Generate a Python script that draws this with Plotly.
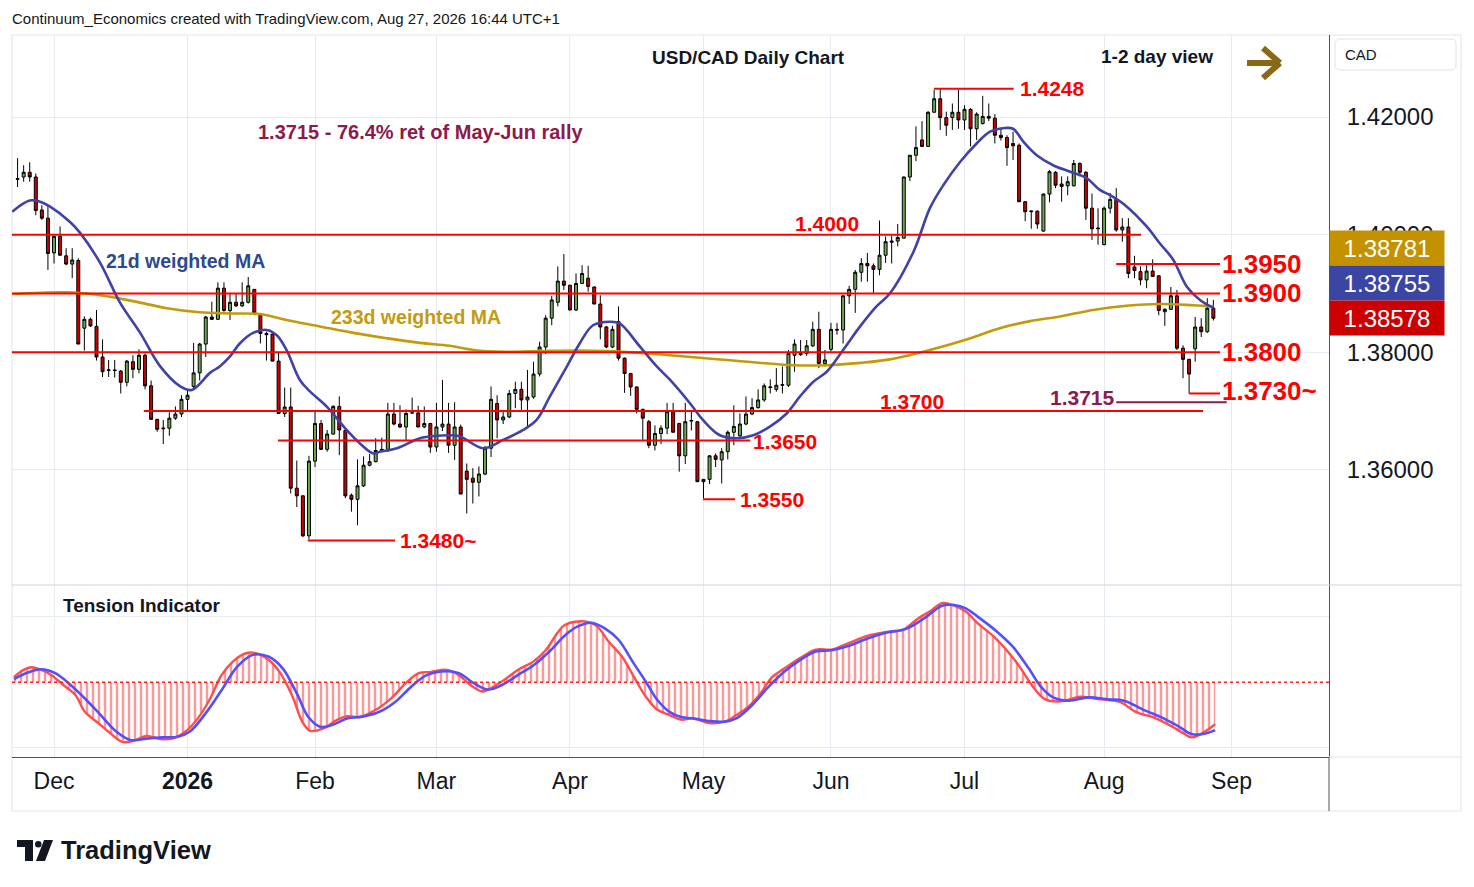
import pandas as pd
import plotly.graph_objects as go

# --- SESSION CALENDAR (FX daily, no bars on Dec 25 / Jan 1) ---
HOLIDAYS = ["2025-12-25", "2026-01-01"]
days = pd.bdate_range("2025-11-21", "2026-09-30")
days = days[~days.isin(pd.to_datetime(HOLIDAYS))]

# --- USD/CAD DAILY OHLC ---
opens = [
    1.4094, 1.4098, 1.4106, 1.4098, 1.4042, 1.4028, 1.3969, 1.3997, 1.3964, 1.3950,
    1.3956, 1.3841, 1.3856, 1.3844, 1.3792, 1.3769, 1.3770, 1.3768, 1.3749, 1.3784,
    1.3771, 1.3795, 1.3743, 1.3686, 1.3670, 1.3671, 1.3688, 1.3695, 1.3720, 1.3742,
    1.3765, 1.3814, 1.3860, 1.3856, 1.3909, 1.3871, 1.3885, 1.3879, 1.3885, 1.3907,
    1.3863, 1.3832, 1.3831, 1.3785, 1.3696, 1.3707, 1.3569, 1.3556, 1.3488, 1.3615,
    1.3679, 1.3635, 1.3661, 1.3708, 1.3667, 1.3557, 1.3550, 1.3573, 1.3608, 1.3614,
    1.3633, 1.3635, 1.3695, 1.3678, 1.3673, 1.3697, 1.3697, 1.3673, 1.3679, 1.3639,
    1.3673, 1.3678, 1.3642, 1.3673, 1.3598, 1.3586, 1.3579, 1.3593, 1.3637, 1.3713,
    1.3685, 1.3690, 1.3730, 1.3737, 1.3719, 1.3724, 1.3763, 1.3809, 1.3858, 1.3885,
    1.3921, 1.3914, 1.3872, 1.3917, 1.3926, 1.3911, 1.3882, 1.3843, 1.3809, 1.3852,
    1.3790, 1.3764, 1.3741, 1.3703, 1.3682, 1.3642, 1.3662, 1.3671, 1.3699, 1.3679,
    1.3624, 1.3683, 1.3682, 1.3580, 1.3584, 1.3624, 1.3617, 1.3631, 1.3664, 1.3658,
    1.3678, 1.3695, 1.3706, 1.3719, 1.3740, 1.3737, 1.3744, 1.3744, 1.3795, 1.3798,
    1.3798, 1.3811, 1.3839, 1.3781, 1.3805, 1.3839, 1.3838, 1.3896, 1.3907, 1.3936,
    1.3951, 1.3947, 1.3941, 1.3965, 1.3987, 1.3989, 1.3994, 1.4098, 1.4135, 1.4161,
    1.4150, 1.4208, 1.4231, 1.4199, 1.4199, 1.4208, 1.4195, 1.4213, 1.4180, 1.4189,
    1.4201, 1.4198, 1.4169, 1.4165, 1.4155, 1.4152, 1.4056, 1.4039, 1.4040, 1.4006,
    1.4069, 1.4106, 1.4086, 1.4083, 1.4083, 1.4121, 1.4106, 1.4045, 1.4010, 1.3983,
    1.4045, 1.4060, 1.4008, 1.4013, 1.3945, 1.3937, 1.3923, 1.3938, 1.3930, 1.3869,
    1.3873, 1.3896, 1.3807, 1.3788, 1.3806, 1.3843, 1.3835, 1.3875,
]
highs = [
    1.4130, 1.4118, 1.4123, 1.4104, 1.4050, 1.4050, 1.3999, 1.4014, 1.3977, 1.3977,
    1.3960, 1.3861, 1.3859, 1.3872, 1.3822, 1.3787, 1.3787, 1.3770, 1.3787, 1.3795,
    1.3805, 1.3798, 1.3752, 1.3687, 1.3685, 1.3698, 1.3708, 1.3727, 1.3736, 1.3816,
    1.3816, 1.3862, 1.3886, 1.3919, 1.3919, 1.3900, 1.3900, 1.3919, 1.3928, 1.3907,
    1.3866, 1.3835, 1.3832, 1.3799, 1.3740, 1.3740, 1.3616, 1.3557, 1.3624, 1.3699,
    1.3685, 1.3668, 1.3710, 1.3725, 1.3668, 1.3560, 1.3618, 1.3623, 1.3627, 1.3654,
    1.3655, 1.3714, 1.3714, 1.3710, 1.3703, 1.3723, 1.3709, 1.3708, 1.3680, 1.3714,
    1.3753, 1.3714, 1.3715, 1.3677, 1.3611, 1.3603, 1.3606, 1.3641, 1.3742, 1.3727,
    1.3701, 1.3736, 1.3750, 1.3750, 1.3770, 1.3784, 1.3818, 1.3863, 1.3896, 1.3946,
    1.3967, 1.3915, 1.3934, 1.3948, 1.3947, 1.3912, 1.3897, 1.3845, 1.3845, 1.3878,
    1.3791, 1.3765, 1.3742, 1.3704, 1.3685, 1.3676, 1.3676, 1.3714, 1.3714, 1.3680,
    1.3714, 1.3702, 1.3683, 1.3584, 1.3625, 1.3628, 1.3637, 1.3667, 1.3710, 1.3696,
    1.3725, 1.3722, 1.3737, 1.3747, 1.3754, 1.3773, 1.3776, 1.3804, 1.3822, 1.3821,
    1.3821, 1.3852, 1.3869, 1.3804, 1.3850, 1.3850, 1.3897, 1.3913, 1.3940, 1.3960,
    1.3969, 1.3951, 1.4024, 1.3997, 1.3998, 1.4018, 1.4099, 1.4135, 1.4184, 1.4193,
    1.4210, 1.4246, 1.4248, 1.4209, 1.4223, 1.4246, 1.4220, 1.4215, 1.4208, 1.4236,
    1.4223, 1.4205, 1.4182, 1.4169, 1.4175, 1.4155, 1.4057, 1.4041, 1.4041, 1.4070,
    1.4110, 1.4108, 1.4099, 1.4099, 1.4127, 1.4123, 1.4108, 1.4070, 1.4045, 1.4048,
    1.4071, 1.4079, 1.4028, 1.4028, 1.3964, 1.3946, 1.3948, 1.3958, 1.3931, 1.3875,
    1.3911, 1.3906, 1.3812, 1.3789, 1.3860, 1.3858, 1.3892, 1.3889,
]
lows = [
    1.4081, 1.4090, 1.4090, 1.4033, 1.4025, 1.3940, 1.3951, 1.3965, 1.3948, 1.3926,
    1.3814, 1.3803, 1.3843, 1.3786, 1.3758, 1.3758, 1.3757, 1.3730, 1.3742, 1.3756,
    1.3764, 1.3737, 1.3686, 1.3665, 1.3644, 1.3658, 1.3685, 1.3690, 1.3701, 1.3736,
    1.3752, 1.3792, 1.3855, 1.3855, 1.3869, 1.3855, 1.3877, 1.3877, 1.3883, 1.3863,
    1.3815, 1.3786, 1.3785, 1.3696, 1.3690, 1.3560, 1.3537, 1.3486, 1.3482, 1.3605,
    1.3635, 1.3631, 1.3660, 1.3625, 1.3552, 1.3529, 1.3506, 1.3571, 1.3606, 1.3613,
    1.3631, 1.3631, 1.3676, 1.3671, 1.3651, 1.3696, 1.3673, 1.3671, 1.3629, 1.3631,
    1.3666, 1.3629, 1.3617, 1.3559, 1.3526, 1.3543, 1.3555, 1.3591, 1.3622, 1.3654,
    1.3678, 1.3688, 1.3705, 1.3702, 1.3671, 1.3721, 1.3759, 1.3797, 1.3846, 1.3878,
    1.3906, 1.3871, 1.3870, 1.3916, 1.3903, 1.3882, 1.3822, 1.3807, 1.3807, 1.3786,
    1.3731, 1.3726, 1.3696, 1.3651, 1.3637, 1.3633, 1.3644, 1.3661, 1.3664, 1.3597,
    1.3610, 1.3667, 1.3580, 1.3552, 1.3576, 1.3605, 1.3577, 1.3618, 1.3642, 1.3652,
    1.3676, 1.3693, 1.3704, 1.3716, 1.3730, 1.3733, 1.3730, 1.3741, 1.3767, 1.3794,
    1.3794, 1.3809, 1.3773, 1.3776, 1.3801, 1.3830, 1.3815, 1.3882, 1.3867, 1.3920,
    1.3920, 1.3901, 1.3931, 1.3952, 1.3951, 1.3980, 1.3994, 1.4091, 1.4125, 1.4150,
    1.4150, 1.4208, 1.4178, 1.4168, 1.4178, 1.4180, 1.4178, 1.4150, 1.4161, 1.4187,
    1.4193, 1.4155, 1.4160, 1.4117, 1.4127, 1.4056, 1.4023, 1.4010, 1.4010, 1.4005,
    1.4055, 1.4079, 1.4056, 1.4067, 1.4082, 1.4099, 1.4025, 1.3991, 1.3983, 1.3982,
    1.4036, 1.4005, 1.3988, 1.3926, 1.3926, 1.3914, 1.3909, 1.3928, 1.3863, 1.3845,
    1.3872, 1.3804, 1.3756, 1.3730, 1.3784, 1.3826, 1.3833, 1.3854,
]
closes = [
    1.4095, 1.4106, 1.4098, 1.4041, 1.4028, 1.3968, 1.3997, 1.3965, 1.3950, 1.3957,
    1.3814, 1.3856, 1.3845, 1.3792, 1.3767, 1.3770, 1.3769, 1.3749, 1.3785, 1.3771,
    1.3795, 1.3743, 1.3686, 1.3669, 1.3671, 1.3688, 1.3695, 1.3720, 1.3727, 1.3765,
    1.3814, 1.3860, 1.3856, 1.3909, 1.3871, 1.3885, 1.3879, 1.3885, 1.3913, 1.3867,
    1.3832, 1.3830, 1.3785, 1.3696, 1.3707, 1.3569, 1.3556, 1.3488, 1.3615, 1.3679,
    1.3635, 1.3661, 1.3708, 1.3668, 1.3556, 1.3550, 1.3573, 1.3608, 1.3614, 1.3633,
    1.3635, 1.3695, 1.3678, 1.3673, 1.3696, 1.3697, 1.3673, 1.3679, 1.3639, 1.3673,
    1.3678, 1.3642, 1.3673, 1.3559, 1.3584, 1.3579, 1.3593, 1.3637, 1.3720, 1.3685,
    1.3690, 1.3730, 1.3737, 1.3719, 1.3724, 1.3763, 1.3809, 1.3858, 1.3889, 1.3921,
    1.3914, 1.3872, 1.3917, 1.3934, 1.3912, 1.3882, 1.3843, 1.3809, 1.3839, 1.3790,
    1.3764, 1.3741, 1.3703, 1.3688, 1.3642, 1.3662, 1.3671, 1.3699, 1.3664, 1.3624,
    1.3682, 1.3684, 1.3580, 1.3584, 1.3624, 1.3618, 1.3631, 1.3664, 1.3674, 1.3678,
    1.3695, 1.3706, 1.3719, 1.3743, 1.3741, 1.3744, 1.3745, 1.3798, 1.3814, 1.3796,
    1.3811, 1.3839, 1.3781, 1.3787, 1.3839, 1.3838, 1.3896, 1.3907, 1.3936, 1.3951,
    1.3947, 1.3941, 1.3965, 1.3988, 1.3989, 1.3995, 1.4098, 1.4135, 1.4148, 1.4150,
    1.4208, 1.4231, 1.4199, 1.4186, 1.4208, 1.4195, 1.4213, 1.4180, 1.4205, 1.4201,
    1.4198, 1.4169, 1.4165, 1.4148, 1.4151, 1.4056, 1.4039, 1.4040, 1.4018, 1.4069,
    1.4107, 1.4084, 1.4082, 1.4090, 1.4121, 1.4106, 1.4045, 1.4010, 1.4011, 1.4045,
    1.4060, 1.4008, 1.4013, 1.3934, 1.3939, 1.3923, 1.3938, 1.3929, 1.3871, 1.3873,
    1.3896, 1.3807, 1.3788, 1.3763, 1.3843, 1.3835, 1.3875, 1.38578,
]

# --- MOVING AVERAGES (bar position, value) ---
ma21_pos = [
    -0.9, 2.0, 3.7, 5.3, 8.6, 10.3, 13.6, 16.9, 20.2, 23.5,
    26.8, 28.7, 31.7, 33.3, 35.0, 36.6, 38.8, 41.0, 42.7, 44.3,
    46.5, 48.2, 50.9, 54.2, 56.4, 58.6, 59.7, 62.5, 66.3, 69.0,
    71.2, 72.9, 76.7, 80.0, 83.3, 85.5, 87.7, 90.5, 92.6, 94.8,
    97.6, 99.2, 102.5, 105.3, 107.5, 110.8, 112.9, 115.7, 118.5, 121.2,
    124.0, 126.7, 128.9, 131.1, 133.3, 136.0, 138.8, 141.5, 143.7, 147.6,
    150.3, 152.5, 155.3, 158.0, 160.2, 162.4, 164.0, 165.7, 167.9, 170.6,
    173.4, 176.1, 178.3, 180.0, 182.7, 186.0, 188.2, 190.4, 192.6, 194.8,
    197.0,
]
ma21_val = [
    1.4039, 1.4058, 1.4056, 1.4048, 1.4022, 1.4003, 1.3952, 1.3884, 1.3833, 1.3776,
    1.3742, 1.3736, 1.3765, 1.3776, 1.3793, 1.3815, 1.3833, 1.3838, 1.3829, 1.3804,
    1.3753, 1.3733, 1.3708, 1.3668, 1.3645, 1.3628, 1.3631, 1.3637, 1.3654, 1.3658,
    1.3659, 1.3657, 1.3637, 1.3651, 1.3668, 1.3685, 1.3725, 1.3776, 1.3815, 1.3846,
    1.3852, 1.3849, 1.3810, 1.3776, 1.3753, 1.3713, 1.3685, 1.3659, 1.3654, 1.3659,
    1.3674, 1.3696, 1.3725, 1.3750, 1.3767, 1.3804, 1.3844, 1.3878, 1.3900, 1.3971,
    1.4045, 1.4084, 1.4124, 1.4155, 1.4175, 1.4181, 1.4180, 1.4158, 1.4135, 1.4118,
    1.4107, 1.4096, 1.4076, 1.4067, 1.4048, 1.4014, 1.3985, 1.3957, 1.3912, 1.3889,
    1.38755,
]
ma233_pos = [
    -0.9, 8.1, 13.6, 19.0, 24.6, 30.0, 35.0, 39.9, 44.3, 49.8,
    55.3, 60.8, 66.3, 71.2, 75.1, 80.6, 86.1, 92.6, 97.0, 102.5,
    107.5, 116.8, 127.8, 133.3, 138.8, 143.7, 150.3, 157.0, 161.8, 166.8,
    171.7, 177.2, 182.7, 188.2, 193.7, 197.0,
]
ma233_val = [
    1.3899, 1.3902, 1.3897, 1.3887, 1.3875, 1.3868, 1.3866, 1.3865, 1.3855, 1.3844,
    1.3833, 1.3824, 1.3816, 1.3811, 1.3804, 1.3801, 1.3802, 1.3803, 1.3802, 1.3799,
    1.3795, 1.3787, 1.3778, 1.3778, 1.3782, 1.3788, 1.3804, 1.3824, 1.3841, 1.3853,
    1.3861, 1.3872, 1.3879, 1.3882, 1.3880, 1.38781,
]

# --- TENSION INDICATOR (bar position, value) ---
tens_fast_pos = [
    -0.6, 1.0, 2.3, 3.6, 5.6, 7.5, 9.5, 11.1, 13.4, 15.3,
    17.3, 19.2, 21.2, 23.8, 25.8, 27.7, 29.7, 31.6, 33.6, 35.5,
    37.5, 39.1, 41.4, 43.3, 45.3, 46.9, 48.2, 50.5, 52.5, 54.1,
    56.4, 59.0, 61.6, 64.2, 66.1, 68.1, 70.7, 72.7, 74.6, 76.6,
    78.5, 80.5, 82.4, 85.0, 87.0, 88.9, 90.2, 93.5, 95.5, 97.4,
    99.6, 101.5, 103.5, 105.4, 107.4, 109.3, 111.3, 113.9, 116.5, 118.4,
    120.4, 122.4, 124.3, 126.3, 128.9, 131.5, 134.1, 136.7, 140.0, 143.2,
    145.8, 148.4, 150.4, 152.3, 154.3, 156.2, 158.2, 160.8, 163.4, 165.3,
    167.3, 169.3, 171.9, 175.1, 178.4, 181.6, 184.2, 187.5, 190.1, 192.1,
    193.4, 195.3, 197.3,
]
tens_fast_val = [
    0.08, 0.19, 0.23, 0.20, 0.11, -0.04, -0.19, -0.45, -0.63, -0.78,
    -0.91, -0.89, -0.82, -0.87, -0.85, -0.75, -0.55, -0.27, 0.11, 0.32,
    0.44, 0.45, 0.34, 0.14, -0.22, -0.60, -0.74, -0.70, -0.58, -0.52,
    -0.53, -0.42, -0.24, 0.01, 0.14, 0.16, 0.19, 0.11, -0.04, -0.14,
    -0.06, 0.06, 0.19, 0.32, 0.49, 0.75, 0.88, 0.93, 0.85, 0.62,
    0.39, 0.09, -0.22, -0.42, -0.50, -0.57, -0.55, -0.62, -0.60, -0.50,
    -0.37, -0.17, 0.08, 0.21, 0.37, 0.50, 0.50, 0.59, 0.71, 0.77,
    0.80, 0.98, 1.09, 1.21, 1.17, 1.08, 0.90, 0.70, 0.44, 0.21,
    -0.07, -0.26, -0.29, -0.22, -0.26, -0.30, -0.45, -0.55, -0.67, -0.78,
    -0.84, -0.77, -0.64,
]
tens_slow_pos = [
    -0.6, 1.7, 3.9, 6.2, 8.5, 10.8, 13.4, 16.0, 18.6, 21.2,
    23.8, 26.4, 28.4, 31.0, 33.6, 36.2, 38.8, 41.4, 43.7, 46.0,
    47.9, 49.9, 51.8, 54.4, 57.0, 59.6, 62.2, 64.8, 67.4, 70.7,
    72.7, 75.3, 77.5, 79.8, 82.4, 85.0, 87.6, 90.2, 92.2, 94.5,
    96.8, 99.0, 101.5, 103.5, 105.4, 107.4, 109.3, 111.3, 113.9, 116.5,
    118.4, 121.0, 123.7, 126.3, 128.9, 131.5, 134.1, 136.7, 140.0, 143.2,
    146.5, 149.7, 152.3, 154.3, 156.2, 158.2, 161.4, 164.0, 166.6, 168.6,
    170.6, 173.2, 176.4, 179.7, 182.3, 185.5, 188.8, 191.4, 193.4, 195.3,
    197.3,
]
tens_slow_val = [
    0.05, 0.15, 0.20, 0.14, -0.02, -0.22, -0.47, -0.73, -0.88, -0.86,
    -0.84, -0.83, -0.75, -0.47, -0.12, 0.24, 0.42, 0.39, 0.21, -0.17,
    -0.53, -0.68, -0.65, -0.55, -0.52, -0.45, -0.30, -0.07, 0.11, 0.17,
    0.14, -0.02, -0.11, -0.04, 0.11, 0.26, 0.47, 0.72, 0.85, 0.91,
    0.82, 0.65, 0.29, 0.01, -0.27, -0.45, -0.53, -0.55, -0.59, -0.60,
    -0.55, -0.35, -0.07, 0.16, 0.34, 0.47, 0.49, 0.55, 0.67, 0.76,
    0.82, 1.00, 1.17, 1.18, 1.13, 1.00, 0.77, 0.54, 0.21, -0.07,
    -0.23, -0.28, -0.23, -0.26, -0.28, -0.42, -0.55, -0.68, -0.79, -0.79,
    -0.73,
]

# --- LEVELS AND LAST VALUES ---
level_price = [1.4248, 1.4000, 1.3950, 1.3900, 1.3800, 1.3730, 1.3715, 1.3700, 1.3650, 1.3550, 1.3480]
level_text = ["1.4248", "1.4000", "1.3950", "1.3900", "1.3800", "1.3730~", "1.3715",
              "1.3700", "1.3650", "1.3550", "1.3480~"]
last_ma233, last_ma21, last_close = 1.38781, 1.38755, closes[-1]
price_ticks = [1.36, 1.38, 1.40, 1.42]

n = len(closes)
bar_x = list(range(n))

# month ticks from the session calendar
tick_pos, tick_txt = [], []
for i in range(1, len(days)):
    if days[i].month != days[i - 1].month:
        tick_pos.append(i)
        tick_txt.append("<b>2026</b>" if days[i].month == 1 else days[i].strftime("%b"))

# --- PIXEL FRAME (screen pixels; the page body adds an 8px offset) ---
OFF = 8
W, H = 1474 - OFF, 887 - OFF
L, R, T, B = 12, 1329, 35, 757
PANE = 585


def px(x):
    return (x - L) / (R - L)


def py(y):
    return (B - y) / (B - T)


X0, X1 = -0.92, 216.05
FONT = "Liberation Sans"
INK = "#131722"
RED = "#ff0000"
PURPLE = "#8c1a4b"

fig = go.Figure()

fig.add_trace(go.Candlestick(
    x=bar_x, open=opens, high=highs, low=lows, close=closes,
    increasing=dict(line=dict(color="#000000", width=1), fillcolor="#6aa84f"),
    decreasing=dict(line=dict(color="#000000", width=1), fillcolor="#cc0000"),
    whiskerwidth=0, hoverinfo="skip", xaxis="x", yaxis="y"))

fig.add_trace(go.Scatter(x=ma233_pos, y=ma233_val, mode="lines",
                         line=dict(color="#c49a0a", width=2.6, shape="spline"),
                         hoverinfo="skip", xaxis="x", yaxis="y"))
fig.add_trace(go.Scatter(x=ma21_pos, y=ma21_val, mode="lines",
                         line=dict(color="#4042a8", width=2.6, shape="spline"),
                         hoverinfo="skip", xaxis="x", yaxis="y"))

# tension indicator: hatched area under fast line, then both lines
fig.add_trace(go.Scatter(x=tens_fast_pos, y=tens_fast_val, mode="lines",
                         line=dict(width=0, shape="spline"), fill="tozeroy",
                         fillcolor="rgba(0,0,0,0)",
                         fillpattern=dict(shape="|", size=6, solidity=0.4, fgcolor="#ff3030",
                                          bgcolor="rgba(0,0,0,0)", fillmode="overlay"),
                         hoverinfo="skip", xaxis="x", yaxis="y2"))
fig.add_trace(go.Scatter(x=tens_fast_pos, y=tens_fast_val, mode="lines",
                         line=dict(color="#ff4d4d", width=2.4, shape="spline"),
                         hoverinfo="skip", xaxis="x", yaxis="y2"))
fig.add_trace(go.Scatter(x=tens_slow_pos, y=tens_slow_val, mode="lines",
                         line=dict(color="#5050ff", width=2.6, shape="spline"),
                         hoverinfo="skip", xaxis="x", yaxis="y2"))

shapes = []
annos = []

# level lines: (x0, x1, label x, label y shift, font size, colour)
level_geom = {
    "1.4248": (150.97, 164.1, 164.8, 0, 21, RED),
    "1.4000": (X0, 185.1, 127.7, 11, 21, RED),
    "1.3950": (181.0, 198.1, 198.1, 0, 26, RED),
    "1.3900": (X0, 198.1, 198.1, 0, 26, RED),
    "1.3800": (X0, 198.1, 198.1, 0, 26, RED),
    "1.3730~": (193.0, 198.1, 198.1, 2, 26, RED),
    "1.3715": (181.0, 199.2, 169.7, 5, 21, PURPLE),
    "1.3700": (20.8, 195.3, 141.7, 10, 21, RED),
    "1.3650": (42.9, 120.7, 120.9, -1, 21, RED),
    "1.3550": (112.9, 118.2, 118.7, 0, 21, RED),
    "1.3480~": (47.8, 62.2, 62.7, 0, 21, RED),
}
for price, txt in zip(level_price, level_text):
    x0, x1, lx, dy, fs, col = level_geom[txt]
    shapes.append(dict(type="line", xref="x", yref="y", x0=x0, x1=x1, y0=price, y1=price,
                       line=dict(color=col, width=2), layer="above"))
    annos.append(dict(xref="x", yref="y", x=lx, y=price, yshift=dy, text=txt, showarrow=False,
                      xanchor="left", yanchor="middle",
                      font=dict(family=FONT, size=fs, color=col, weight="bold")))

# zero line of the indicator
shapes.append(dict(type="line", xref="x", yref="y2", x0=X0, x1=X1, y0=0, y1=0,
                   line=dict(color="#ff2020", width=1.5, dash="dot"), layer="above"))


def rounded_box(x0, y0, x1, y1, r):
    a, b, c, d = px(x0), py(y0), px(x1), py(y1)
    rx, ry = r / (R - L), r / (B - T)
    return ("M {} {} L {} {} Q {} {} {} {} L {} {} Q {} {} {} {} "
            "L {} {} Q {} {} {} {} L {} {} Q {} {} {} {} Z").format(
        a + rx, b, c - rx, b, c, b, c, b - ry, c, d + ry, c, d, c - rx, d,
        a + rx, d, a, d, a, d + ry, a, b - ry, a, b, a + rx, b)


# frame, pane separator, axis extensions, currency box
shapes += [
    dict(type="rect", xref="paper", yref="paper", x0=px(12), x1=px(1461), y0=py(811), y1=py(35),
         line=dict(color="#e0e3eb", width=1), layer="below"),
    dict(type="line", xref="paper", yref="paper", x0=px(12), x1=px(1461), y0=py(PANE), y1=py(PANE),
         line=dict(color="#d1d4dc", width=1.2)),
    dict(type="line", xref="paper", yref="paper", x0=px(1329), x1=px(1329), y0=py(757), y1=py(811),
         line=dict(color="#50535e", width=1)),
    dict(type="line", xref="paper", yref="paper", x0=px(1329), x1=px(1461), y0=py(757), y1=py(757),
         line=dict(color="#e0e3eb", width=1)),
    dict(type="path", xref="paper", yref="paper", path=rounded_box(1335, 39, 1456, 70, 5),
         line=dict(color="#e0e3eb", width=1), fillcolor="white"),
]

# direction arrow
ARROW = "#8b6914"
for (ax0, ay0, ax1, ay1) in [(1247, 63, 1278, 63), (1263, 48, 1280, 63), (1263, 78, 1280, 63)]:
    shapes.append(dict(type="line", xref="paper", yref="paper", x0=px(ax0), y0=py(ay0),
                       x1=px(ax1), y1=py(ay1), line=dict(color=ARROW, width=6)))

# TradingView logo mark
shapes += [
    dict(type="rect", xref="paper", yref="paper", x0=px(17), x1=px(33), y0=py(847), y1=py(840),
         fillcolor=INK, line=dict(width=0)),
    dict(type="rect", xref="paper", yref="paper", x0=px(25), x1=px(33), y0=py(861), y1=py(840),
         fillcolor=INK, line=dict(width=0)),
    dict(type="circle", xref="paper", yref="paper", x0=px(35), x1=px(41.5), y0=py(847.5), y1=py(841),
         fillcolor=INK, line=dict(width=0)),
    dict(type="path", xref="paper", yref="paper",
         path="M {} {} L {} {} L {} {} L {} {} Z".format(px(44), py(840), px(53), py(840),
                                                        px(45), py(861), px(36), py(861)),
         fillcolor=INK, line=dict(width=0)),
]


def text_px(txt, x, y, size, color=INK, bold=False, anchor="left"):
    annos.append(dict(xref="paper", yref="paper", x=px(x), y=py(y), text=txt, showarrow=False,
                      xanchor=anchor, yanchor="middle",
                      font=dict(family=FONT, size=size, color=color,
                                weight="bold" if bold else "normal")))


text_px("Continuum_Economics created with TradingView.com, Aug 27, 2026 16:44 UTC+1", 10, 19, 15)
text_px("USD/CAD Daily Chart", 748, 57, 19, bold=True, anchor="center")
text_px("1-2 day view", 1157, 56, 19, bold=True, anchor="center")
text_px("1.3715 - 76.4% ret of May-Jun rally", 256, 132, 20, color=PURPLE, bold=True)
text_px("21d weighted MA", 104, 261, 19.5, color="#2c4a8c", bold=True)
text_px("233d weighted MA", 329, 317, 19.5, color="#c49b0c", bold=True)
text_px("Tension Indicator", 61, 605, 19, bold=True)
text_px("CAD", 1343, 55, 15)
text_px("TradingView", 59, 850, 25.5, bold=True)

# last-value boxes on the price scale
for val, col, yc in [(last_ma233, "#c49200", 248), (last_ma21, "#3b45a3", 283), (last_close, "#cc0000", 318)]:
    annos.append(dict(xref="paper", yref="paper", x=px(1387), y=py(yc), text=f"{val:.5f}",
                      showarrow=False, xanchor="center", yanchor="middle", bgcolor=col,
                      width=114, height=34, borderpad=0,
                      font=dict(family=FONT, size=24, color="white")))

GRID = "#e6ebf1"
fig.update_layout(
    width=W, height=H,
    margin=dict(l=L - OFF, r=W - (R - OFF), t=T - OFF, b=H - (B - OFF)),
    paper_bgcolor="white", plot_bgcolor="white",
    showlegend=False, hovermode=False,
    shapes=shapes, annotations=annos,
    xaxis=dict(domain=[0, 1], anchor="y2", range=[X0, X1], tickvals=tick_pos, ticktext=tick_txt,
               tickfont=dict(family=FONT, size=23, color=INK), showgrid=True, gridcolor=GRID,
               zeroline=False, showline=True, linecolor="#50535e", ticks="",
               ticklabelstandoff=3, rangeslider=dict(visible=False), fixedrange=True),
    yaxis=dict(domain=[py(PANE), 1], anchor="x", side="right", range=[1.34044, 1.43394],
               tickvals=price_ticks, ticktext=[f"{v:.5f}" for v in price_ticks],
               tickfont=dict(family=FONT, size=24, color=INK), showgrid=True, gridcolor=GRID,
               zeroline=False, showline=True, linecolor="#50535e", ticks="",
               ticklabelstandoff=12),
    yaxis2=dict(domain=[0, py(PANE)], anchor="x", side="right", range=[-1.140, 1.486],
                tickvals=[-1, 1], showticklabels=False, showgrid=True, gridcolor=GRID,
                zeroline=False, showline=True, linecolor="#50535e", ticks=""),
)

fig.write_html("out.html")
